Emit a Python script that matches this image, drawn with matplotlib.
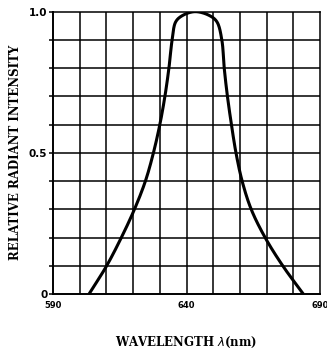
import matplotlib
matplotlib.use('Agg')
import matplotlib.pyplot as plt
import numpy as np

# wavelength (nm) and relative intensity
wavelength = [603.5, 610.1, 615.6, 620.5, 624.6, 627.6, 630.0, 631.9, 633.4, 634.6,
              636.0, 638.8, 643.2, 648.2, 651.3, 653.2, 654.1, 655.3, 656.8, 658.5,
              660.8, 664.2, 669.4, 676.0, 683.7]
intensity = [0.0, 0.1, 0.2, 0.3, 0.4, 0.5, 0.6, 0.7, 0.8, 0.9,
             0.965, 0.988, 1.0, 0.988, 0.965, 0.9, 0.8, 0.7, 0.6, 0.5,
             0.4, 0.3, 0.2, 0.1, 0.0]
x_ticks = [590, 640, 690]
x_labels = ['590', '640', '690']
y_ticks = [0, 0.5, 1.0]
y_labels = ['0', '0.5', '1.0']


def catmull_rom(px, py, n=20):
    # centripetal catmull-rom through the traced points (in roughly pixel scale)
    p = np.column_stack([np.asarray(px) * 2.67, np.asarray(py) * 282.0])
    p = np.vstack([2 * p[0] - p[1], p, 2 * p[-1] - p[-2]])
    out = []
    for i in range(1, len(p) - 2):
        p0, p1, p2, p3 = p[i - 1], p[i], p[i + 1], p[i + 2]
        t0 = 0.0
        t1 = t0 + np.linalg.norm(p1 - p0) ** 0.5
        t2 = t1 + np.linalg.norm(p2 - p1) ** 0.5
        t3 = t2 + np.linalg.norm(p3 - p2) ** 0.5
        t = np.linspace(t1, t2, n)[:, None]
        a1 = (t1 - t) / (t1 - t0) * p0 + (t - t0) / (t1 - t0) * p1
        a2 = (t2 - t) / (t2 - t1) * p1 + (t - t1) / (t2 - t1) * p2
        a3 = (t3 - t) / (t3 - t2) * p2 + (t - t2) / (t3 - t2) * p3
        b1 = (t2 - t) / (t2 - t0) * a1 + (t - t0) / (t2 - t0) * a2
        b2 = (t3 - t) / (t3 - t1) * a2 + (t - t1) / (t3 - t1) * a3
        c = (t2 - t) / (t2 - t1) * b1 + (t - t1) / (t2 - t1) * b2
        out.append(c)
    out = np.vstack(out)
    return out[:, 0] / 2.67, out[:, 1] / 282.0


fig = plt.figure(figsize=(3.27, 3.49), dpi=100)
ax = fig.add_axes([0.162, 0.1576, 0.817, 0.809])

xs, ys = catmull_rom(wavelength, intensity)
ax.plot(xs, ys, color='black', lw=2.2, solid_capstyle='butt', zorder=3)

ax.set_xlim(590, 690)
ax.set_ylim(0, 1.0)
for v in np.arange(600, 690, 10):
    ax.axvline(v, color='black', lw=1.1, zorder=1)
for v in np.arange(0.1, 1.0, 0.1):
    ax.axhline(v, color='black', lw=1.1, zorder=1)
for s in ax.spines.values():
    s.set_linewidth(1.1)
ax.spines['left'].set_linewidth(1.4)
ax.spines['bottom'].set_linewidth(1.4)

ax.set_xticks(x_ticks)
ax.set_xticklabels(x_labels, fontsize=6, fontweight='bold')
ax.set_yticks(y_ticks)
ax.set_yticklabels(y_labels, fontsize=7.5, fontweight='bold')
ax.set_yticks(np.arange(0, 1.01, 0.1), minor=True)
ax.tick_params(axis='x', length=0, pad=5)
ax.tick_params(axis='y', which='both', length=3, width=1.1, pad=1)

ax.set_ylabel('RELATIVE RADIANT INTENSITY', fontsize=8.5, fontweight='bold',
              family='DejaVu Serif', labelpad=5)
ax.set_xlabel('WAVELENGTH $\\lambda$(nm)', fontsize=8.5, fontweight='bold',
              family='DejaVu Serif', labelpad=18)

fig.savefig('out.png', dpi=100)
